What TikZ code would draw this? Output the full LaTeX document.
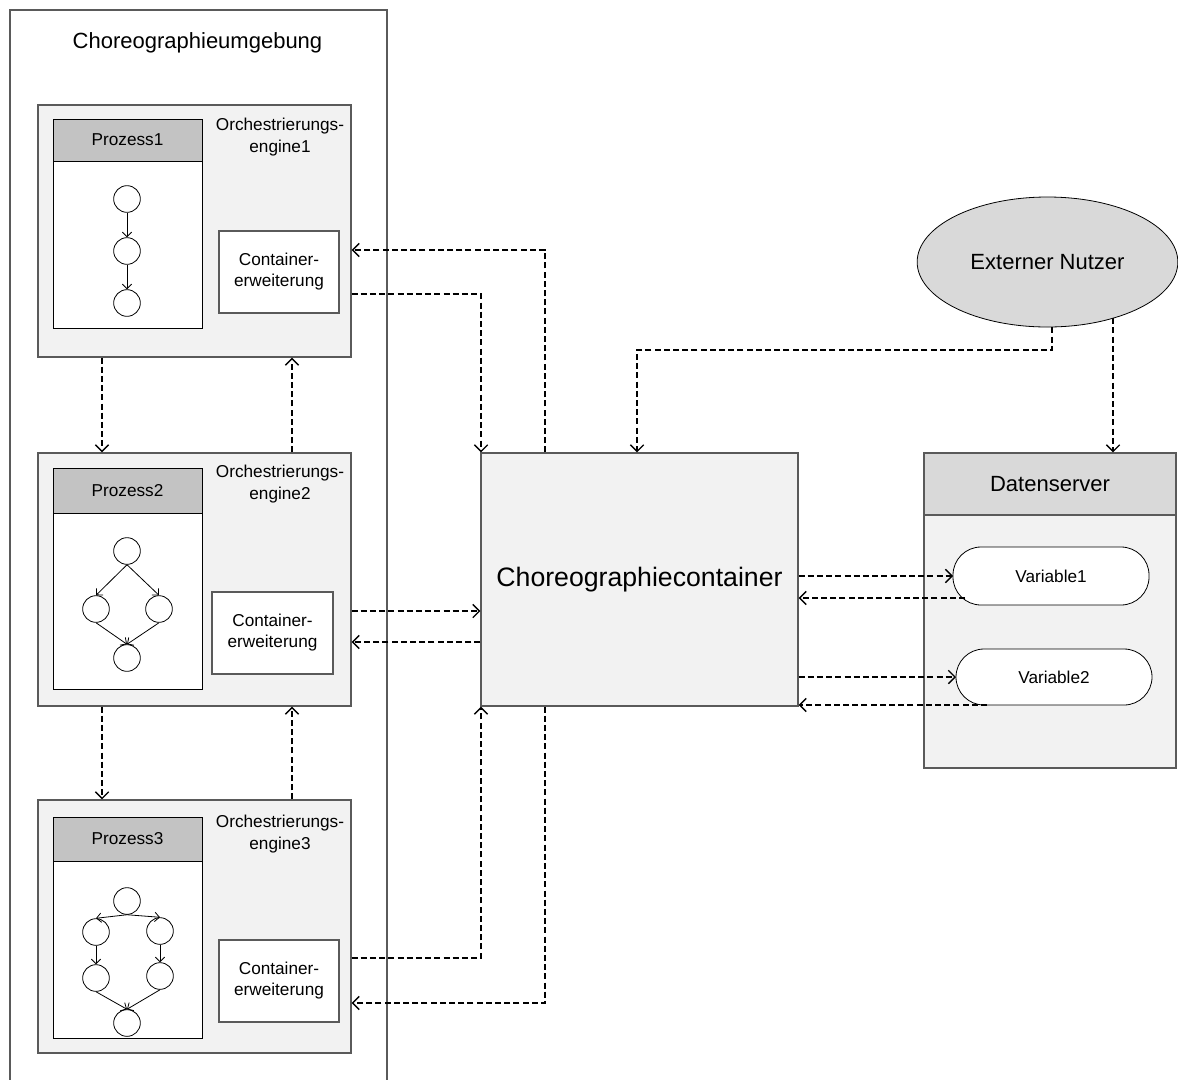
\documentclass[tikz,border=0pt]{standalone}
\usepackage{fontspec}
\setmainfont{Liberation Sans}
\usetikzlibrary{arrows.meta,calc,fit,shapes.geometric}
\definecolor{boxline}{HTML}{5A5A5A}
\definecolor{lightfill}{HTML}{F2F2F2}
\definecolor{headfill}{HTML}{C3C3C3}
\definecolor{userfill}{HTML}{D9D9D9}
\begin{document}
\begin{tikzpicture}[x=0.75pt,y=-0.75pt,
  frame/.style={draw=boxline,line width=0.8pt,inner sep=0pt},
  engine/.style={frame,fill=lightfill},
  procbox/.style={draw=black,line width=0.7pt,fill=white,inner sep=0pt},
  prochead/.style={draw=black,line width=0.7pt,fill=headfill,inner sep=0pt},
  extbox/.style={draw=boxline,line width=0.8pt,fill=white,inner sep=0pt},
  varbox/.style={draw=black,line width=0.6pt,fill=white,rounded corners=21pt,inner sep=0pt,outer sep=0pt},
  smalltext/.style={font=\fontsize{12.9}{15.8}\selectfont,align=center,inner sep=0pt},
  labeltext/.style={font=\fontsize{12.9}{17}\selectfont,align=center,inner sep=0pt},
  bigtext/.style={font=\fontsize{16.5}{20}\selectfont,inner sep=0pt},
  circ/.style={circle,draw=black,line width=0.6pt,fill=white,minimum size=20pt,inner sep=0pt},
  parr/.style={line width=0.6pt,-{Straight Barb[length=3.5pt,width=7pt]}},
  dcon/.style={line width=1.05pt,dash pattern=on 4.5pt off 2.4pt,-{Straight Barb[length=5pt,width=10pt]}},
]
\useasboundingbox (0,0) rectangle (1178,1079);
\clip (0,0) rectangle (1178,1079);

% choreography environment (open towards the bottom edge)
\node[frame,fit={(10,10) (387,1100)}] (env) {};
\node[bigtext] (envlabel) at (197.5,43) {Choreographieumgebung};

% orchestration engines
\node[engine,fit={(38,105) (351,357)}] (e1) {};
\node[engine,fit={(38,453) (351,706)}] (e2) {};
\node[engine,fit={(38,800) (351,1053)}] (e3) {};

\node[labeltext] (e1label) at (280,137) {Orchestrierungs-\\engine1};
\node[labeltext] (e2label) at (280,484) {Orchestrierungs-\\engine2};
\node[labeltext] (e3label) at (280,834) {Orchestrierungs-\\engine3};

% process boxes with headers
\node[procbox,fit={(53,119) (202,328)}] (p1) {};
\node[prochead,fit={(53,119) (202,161)}] (p1h) {};
\node[smalltext] at (p1h.center) {Prozess1};
\node[procbox,fit={(53,468) (202,689)}] (p2) {};
\node[prochead,fit={(53,468) (202,513)}] (p2h) {};
\node[smalltext] at (p2h.center) {Prozess2};
\node[procbox,fit={(53,817) (202,1038)}] (p3) {};
\node[prochead,fit={(53,817) (202,861)}] (p3h) {};
\node[smalltext] at (p3h.center) {Prozess3};

% container extensions
\node[extbox,fit={(219,231) (339,313)}] (c1) {};
\node[smalltext] at (c1.center) {Container-\\erweiterung};
\node[extbox,fit={(212,592) (333,674)}] (c2) {};
\node[smalltext] at (c2.center) {Container-\\erweiterung};
\node[extbox,fit={(219,940) (339,1022)}] (c3) {};
\node[smalltext] at (c3.center) {Container-\\erweiterung};

% process 1: sequence
\node[circ] (a1) at (127,199) {};
\node[circ] (a2) at (127,251) {};
\node[circ] (a3) at (127,303) {};
\draw[parr] (a1) -- (a2);
\draw[parr] (a2) -- (a3);

% process 2: split and join
\node[circ] (b1) at (127,551) {};
\node[circ] (b2) at (96,609) {};
\node[circ] (b3) at (159,609) {};
\node[circ] (b4) at (127,658) {};
\draw[parr] (b1.south) -- (b2.north);
\draw[parr] (b1.south) -- (b3.north);
\draw[parr] (b2.south) -- (b4.north);
\draw[parr] (b3.south) -- (b4.north);

% process 3: two parallel branches
\node[circ] (d1) at (127,901) {};
\node[circ] (d2) at (96,932) {};
\node[circ] (d3) at (160,931) {};
\node[circ] (d4) at (96,978) {};
\node[circ] (d5) at (160,976) {};
\node[circ] (d6) at (127,1023) {};
\draw[parr] (d1.south) -- (d2.north);
\draw[parr] (d1.south) -- (d3.north);
\draw[parr] (d2) -- (d4);
\draw[parr] (d3) -- (d5);
\draw[parr] (d4.south) -- (d6.north);
\draw[parr] (d5.south) -- (d6.north);

% choreography container
\node[frame,fill=lightfill,fit={(481,453) (798,706)}] (cc) {};
\node[font=\fontsize{20}{24}\selectfont,inner sep=0pt] at (cc.center) {Choreographiecontainer};

% external user
\node[ellipse,draw=black,line width=0.6pt,fill=userfill,minimum width=195.5pt,minimum height=97.5pt,inner sep=0pt] (ext) at (1047.5,262) {};
\node[bigtext] at (ext.center) {Externer Nutzer};

% data server
\node[frame,fill=lightfill,fit={(924,453) (1176,768)}] (ds) {};
\node[frame,fill=userfill,fit={(924,453) (1176,515)}] (dsh) {};
\node[bigtext] at (dsh.center) {Datenserver};

\node[varbox,fit={(953,547) (1149,605)}] (v1) {};
\node[smalltext] at (v1.center) {Variable1};
\node[varbox,fit={(956,649) (1152,705)}] (v2) {};
\node[smalltext] at (v2.center) {Variable2};

% waypoints of the bent connectors
\coordinate (w1) at (545,250);
\coordinate (w2) at (481,294);
\coordinate (w3) at (637,350);
\coordinate (w4) at (481,958);
\coordinate (w5) at (545,1003);
\coordinate (w6) at (0,611);
\coordinate (w7) at (0,642);
\coordinate (w8) at (102,0);
\coordinate (w9) at (292,0);
\coordinate (w10) at (1113,0);
\coordinate (s1) at ($(v1.south west)+(12,-7)$);
\coordinate (s2) at ($(v2.south west)+(31,0)$);

% engine <-> choreography container
\draw[dcon] (cc.north -| w1) |- (e1.east |- w1);
\draw[dcon] (e1.east |- w2) -| (cc.north -| w2);
\draw[dcon] (e2.east |- w6) -- (cc.west |- w6);
\draw[dcon] (cc.west |- w7) -- (e2.east |- w7);
\draw[dcon] (e3.east |- w4) -| (cc.south -| w4);
\draw[dcon] (cc.south -| w5) |- (e3.east |- w5);

% engine <-> engine
\draw[dcon] (e1.south -| w8) -- (e2.north -| w8);
\draw[dcon] (e2.north -| w9) -- (e1.south -| w9);
\draw[dcon] (e2.south -| w8) -- (e3.north -| w8);
\draw[dcon] (e3.north -| w9) -- (e2.south -| w9);

% external user
\draw[dcon] ($(ext.south)+(4.5,0)$) |- (w3) -- (cc.north -| w3);
\draw[dcon] (ext.-40.6 -| w10) -- (ds.north -| w10);

% choreography container <-> variables
\draw[dcon] (cc.east |- v1.west) -- (v1.west);
\draw[dcon] (s1) -- (cc.east |- s1);
\draw[dcon] (cc.east |- v2.west) -- (v2.west);
\draw[dcon] (s2) -- (cc.east |- s2);
\end{tikzpicture}
\end{document}
